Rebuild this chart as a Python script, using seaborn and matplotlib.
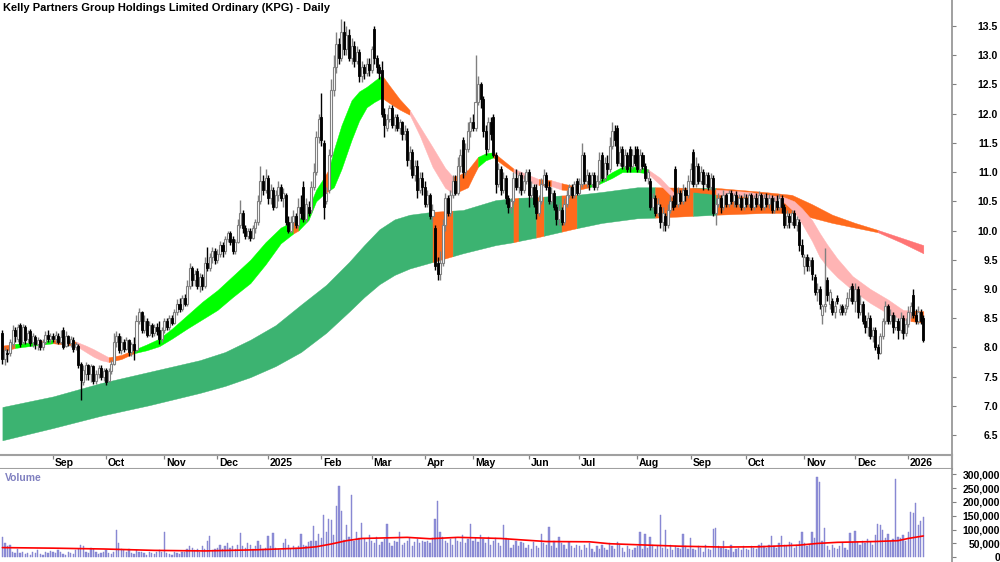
import numpy as np
import pandas as pd
import matplotlib
matplotlib.use("Agg")
import matplotlib.pyplot as plt
import seaborn as sns

sns.set_theme(style="white")
plt.rcParams['font.family'] = ['Liberation Sans', 'DejaVu Sans']

TITLE = "Kelly Partners Group Holdings Limited Ordinary (KPG) - Daily"

# ---- daily candles (open, high, low, close), one list per month ----
aug24 = [(8.25,8.30,7.72,7.80),(7.80,8.00,7.70,7.95),(7.90,7.98,7.75,7.88),(7.90,8.15,7.85,8.10),(8.05,8.38,8.00,8.30),
         (8.30,8.35,8.10,8.20),(8.15,8.40,8.10,8.35),(8.38,8.42,8.00,8.05),(8.10,8.40,8.05,8.35),(8.35,8.38,8.05,8.12),
         (8.15,8.30,8.08,8.25),(8.28,8.32,8.02,8.08),(8.10,8.25,8.00,8.20),(8.18,8.22,7.98,8.05),(8.05,8.18,7.95,8.12),
         (8.12,8.15,7.95,8.00),(8.00,8.14,7.96,8.10),(8.10,8.28,8.05,8.22),(8.22,8.30,8.10,8.15),(8.15,8.25,8.08,8.20)]
sep24 = [(8.20,8.25,8.10,8.15),(8.15,8.28,8.08,8.22),(8.20,8.24,8.05,8.10),(8.10,8.30,8.05,8.18),(8.30,8.34,7.98,8.00),
         (8.02,8.28,8.00,8.20),(8.20,8.22,8.02,8.08),(8.08,8.20,8.00,8.15),(8.12,8.18,7.92,7.98),(8.00,8.10,7.95,8.05),
         (8.02,8.05,7.65,7.70),(7.72,7.75,7.10,7.45),(7.40,7.70,7.35,7.62),(7.55,7.75,7.45,7.70),(7.70,7.72,7.45,7.55),
         (7.55,7.72,7.40,7.68),(7.68,7.70,7.38,7.42),(7.42,7.62,7.38,7.55),(7.55,7.70,7.48,7.65),(7.65,7.70,7.45,7.50),
         (7.50,7.65,7.42,7.60)]
oct24 = [(7.62,7.65,7.35,7.40),(7.42,7.65,7.40,7.60),(7.60,7.78,7.55,7.72),(7.72,8.25,7.70,8.10),(8.10,8.28,8.00,8.20),
         (8.20,8.25,7.90,7.95),(7.95,8.20,7.88,8.10),(8.10,8.15,7.92,7.98),(7.98,8.18,7.95,8.12),(8.12,8.15,7.85,7.92),
         (7.92,8.10,7.85,8.05),(8.05,8.18,7.78,7.95),(7.95,8.55,7.92,8.45),(8.45,8.68,8.40,8.60),(8.60,8.62,8.25,8.30),
         (8.30,8.55,8.25,8.45),(8.45,8.50,8.18,8.22),(8.22,8.45,8.20,8.38),(8.38,8.42,8.18,8.25),(8.25,8.40,8.20,8.35),
         (8.35,8.42,8.22,8.28),(8.30,8.45,8.05,8.15),(8.15,8.35,8.10,8.30)]
nov24 = [(8.30,8.50,8.25,8.45),(8.45,8.50,8.30,8.35),(8.35,8.55,8.30,8.50),(8.50,8.55,8.38,8.42),(8.42,8.65,8.40,8.60),
         (8.60,8.82,8.55,8.75),(8.75,8.85,8.60,8.65),(8.65,8.90,8.62,8.85),(8.85,8.92,8.70,8.75),(8.75,9.15,8.70,9.05),
         (9.05,9.45,9.00,9.35),(9.35,9.40,9.05,9.15),(9.15,9.32,9.05,9.25),(9.30,9.35,9.00,9.05),(9.05,9.28,8.95,9.20),
         (9.20,9.25,8.98,9.05),(9.05,9.55,9.02,9.45),(9.45,9.72,9.30,9.35),(9.35,9.62,9.30,9.55),(9.55,9.72,9.45,9.65),
         (9.65,9.70,9.42,9.50)]
dec24 = [(9.50,9.68,9.45,9.60),(9.60,9.82,9.55,9.75),(9.75,9.80,9.55,9.65),(9.65,9.90,9.60,9.85),(9.85,10.00,9.80,9.95),
         (9.95,10.00,9.75,9.80),(9.85,9.90,9.60,9.65),(9.65,9.85,9.60,9.80),(9.80,10.20,9.78,10.10),(10.10,10.52,10.05,10.30),
         (10.30,10.35,9.95,10.05),(10.05,10.10,9.85,9.90),(9.90,10.05,9.85,10.00),(10.00,10.05,9.82,9.88),(9.88,10.10,9.85,10.05),
         (10.05,10.20,9.95,10.15),(10.15,10.60,10.10,10.50),(10.50,11.10,10.45,10.85),(10.85,10.95,10.60,10.70),(10.70,11.05,10.65,10.90)]
jan25 = [(10.90,10.95,10.45,10.55),(10.55,10.80,10.45,10.70),(10.70,10.75,10.35,10.40),(10.40,10.70,10.38,10.60),(10.60,10.85,10.50,10.75),
         (10.75,10.80,10.50,10.55),(10.55,10.72,10.40,10.65),(10.60,10.65,10.10,10.15),(10.15,10.25,9.95,10.00),(10.00,10.25,9.95,10.15),
         (10.15,10.35,10.05,10.25),(10.25,10.30,10.05,10.10),(10.10,10.55,10.05,10.40),(10.40,10.60,10.20,10.30),(10.75,10.85,10.15,10.20),
         (10.20,10.55,10.15,10.45),(10.40,10.50,10.25,10.30),(10.35,10.85,10.30,10.75),(10.75,11.15,10.70,11.00),(11.00,11.70,10.95,11.60),
         (11.60,12.00,11.50,11.90)]
feb25 = [(11.95,12.35,11.45,11.55),(11.50,11.55,10.20,10.40),(10.50,10.75,10.45,10.65),(10.70,11.40,10.65,11.30),(11.30,12.60,11.25,12.40),
         (12.40,13.00,12.30,12.80),(12.80,13.40,12.70,13.20),(13.20,13.30,12.85,12.95),(12.95,13.62,12.90,13.40),(13.40,13.58,13.00,13.10),
         (13.10,13.50,13.00,13.35),(13.35,13.45,12.90,12.95),(12.95,13.30,12.85,13.15),(13.15,13.25,12.80,12.90),(12.90,13.15,12.85,13.05),
         (13.05,13.10,12.55,12.65),(12.65,12.90,12.55,12.80),(12.80,12.85,12.60,12.70),(12.70,12.95,12.65,12.85),(12.85,12.95,12.65,12.75)]
mar25 = [(12.75,13.15,12.70,13.10),(13.45,13.50,12.85,12.95),(12.95,13.00,12.70,12.80),(12.80,12.85,12.60,12.70),(12.75,12.90,11.95,12.00),
         (12.00,12.10,11.60,11.80),(11.75,12.00,11.70,11.90),(11.90,12.15,11.85,12.10),(12.10,12.15,11.75,11.80),(11.80,12.00,11.70,11.95),
         (11.95,12.00,11.70,11.75),(11.75,11.90,11.65,11.85),(11.85,11.88,11.55,11.65),(11.65,11.80,11.55,11.70),(11.70,11.75,11.10,11.20),
         (11.20,11.45,11.05,11.35),(11.35,11.40,10.90,10.95),(10.95,11.20,10.85,11.10),(11.10,11.20,10.55,10.70),(10.70,11.00,10.65,10.90),
         (10.90,11.00,10.60,10.75)]
apr25 = [(10.75,10.85,10.40,10.45),(10.45,10.70,10.40,10.60),(10.60,10.65,10.20,10.25),(10.25,10.45,10.15,10.35),(10.05,10.10,9.33,9.40),
         (9.45,9.55,9.15,9.25),(9.25,9.65,9.15,9.45),(9.45,10.20,9.40,10.10),(10.10,10.65,10.00,10.55),(10.55,10.60,10.25,10.30),
         (10.30,10.70,10.25,10.60),(10.60,10.95,10.55,10.85),(10.85,10.95,10.60,10.65),(10.65,11.25,10.60,11.10),(11.10,11.40,11.00,11.30),
         (11.55,11.60,10.90,11.00),(11.00,11.50,10.95,11.40),(11.40,11.85,11.35,11.70),(11.70,11.95,11.60,11.85)]
may25 = [(11.85,12.00,11.70,11.75),(11.75,13.00,11.70,12.20),(12.20,12.65,12.15,12.50),(12.50,12.55,12.10,12.25),(12.25,12.30,11.60,11.70),
         (11.70,11.80,11.30,11.40),(11.40,11.95,11.35,11.85),(11.85,11.95,11.55,11.65),(11.95,12.00,11.25,11.30),(11.30,11.35,10.65,10.80),
         (10.80,11.15,10.75,11.05),(11.05,11.10,10.60,10.70),(10.70,11.00,10.65,10.90),(10.90,10.95,10.45,10.55),(10.55,10.60,10.30,10.40),
         (10.40,10.55,10.30,10.50),(10.50,11.00,10.45,10.90),(10.90,11.05,10.70,10.75),(10.75,11.00,10.65,10.95),(10.95,11.00,10.60,10.70),
         (10.70,10.95,10.65,10.85),(10.85,11.05,10.80,11.00)]
jun25 = [(11.00,11.05,10.40,10.60),(10.60,10.85,10.55,10.75),(10.75,10.80,10.40,10.45),(10.70,10.80,10.20,10.30),(10.30,10.60,10.25,10.50),
         (10.50,10.90,10.45,10.80),(10.80,11.05,10.75,10.95),(10.95,11.00,10.70,10.75),(10.75,10.85,10.45,10.50),(10.50,10.75,10.45,10.65),
         (10.65,10.70,10.35,10.40),(10.40,10.45,10.10,10.20),(10.20,10.45,10.10,10.35),(10.35,10.40,10.10,10.15),(10.15,10.55,10.10,10.45),
         (10.45,10.70,10.40,10.60),(10.60,10.80,10.55,10.75),(10.75,10.80,10.55,10.60),(10.60,10.85,10.55,10.80),(10.85,10.90,10.60,10.65)]
jul25 = [(10.65,10.90,10.60,10.80),(10.80,11.50,10.75,11.30),(11.30,11.35,10.80,10.85),(10.85,11.05,10.75,10.95),(10.95,11.00,10.70,10.80),
         (10.80,11.00,10.75,10.95),(10.95,11.00,10.70,10.75),(10.75,10.95,10.70,10.85),(10.85,11.35,10.80,11.20),(11.30,11.35,10.85,10.90),
         (10.90,11.25,10.85,11.15),(11.15,11.30,10.95,11.05),(11.05,11.60,11.00,11.45),(11.45,11.85,11.40,11.70),(11.70,11.80,11.45,11.55),
         (11.75,11.80,11.10,11.15),(11.15,11.45,11.10,11.35),(11.40,11.45,11.05,11.10),(11.10,11.40,11.05,11.30),(11.30,11.35,11.00,11.05),
         (11.40,11.45,11.00,11.10),(11.10,11.40,11.05,11.30),(11.30,11.45,11.10,11.15)]
aug25 = [(11.40,11.45,11.00,11.05),(11.05,11.40,11.00,11.30),(11.30,11.35,11.05,11.10),(11.10,11.15,10.85,10.90),(10.90,11.05,10.80,11.00),
         (10.85,10.90,10.35,10.40),(10.40,10.65,10.35,10.55),(10.55,10.60,10.25,10.30),(10.30,10.55,10.25,10.45),(10.40,10.45,10.05,10.15),
         (10.15,10.40,10.00,10.30),(10.25,10.30,10.00,10.10),(10.10,10.45,10.05,10.35),(10.35,10.60,10.30,10.50),(10.50,10.60,10.35,10.40),
         (11.05,11.10,10.40,10.45),(10.45,10.75,10.40,10.65),(10.65,10.70,10.45,10.50),(10.50,10.80,10.45,10.70),(10.70,10.75,10.50,10.60),
         (10.60,10.95,10.55,10.85)]
sep25 = [(10.85,11.15,10.80,11.05),(11.35,11.40,10.75,10.80),(10.80,11.25,10.75,11.10),(11.10,11.15,10.80,10.85),(10.85,11.10,10.80,11.00),
         (11.00,11.05,10.70,10.80),(10.80,11.00,10.75,10.95),(10.95,11.00,10.70,10.75),(10.75,10.98,10.70,10.90),(10.90,10.95,10.25,10.30),
         (10.30,10.55,10.10,10.45),(10.45,10.65,10.40,10.55),(10.55,10.60,10.30,10.40),(10.40,10.70,10.35,10.60),(10.60,10.65,10.40,10.45),
         (10.45,10.70,10.40,10.65),(10.65,10.70,10.45,10.50),(10.50,10.65,10.40,10.60),(10.60,10.68,10.40,10.45),(10.45,10.62,10.40,10.55),
         (10.55,10.60,10.35,10.40),(10.40,10.65,10.35,10.55)]
oct25 = [(10.55,10.62,10.40,10.45),(10.45,10.65,10.40,10.60),(10.60,10.65,10.35,10.40),(10.40,10.60,10.35,10.55),(10.55,10.65,10.40,10.45),
         (10.45,10.68,10.42,10.60),(10.60,10.65,10.35,10.40),(10.40,10.62,10.35,10.55),(10.55,10.65,10.40,10.45),(10.45,10.62,10.38,10.55),
         (10.55,10.60,10.30,10.35),(10.35,10.58,10.30,10.50),(10.50,10.60,10.35,10.40),(10.40,10.62,10.35,10.55),(10.55,10.60,10.30,10.40),
         (10.40,10.45,10.05,10.10),(10.10,10.35,10.05,10.25),(10.25,10.30,10.05,10.15),(10.15,10.35,10.10,10.30),(10.30,10.35,10.05,10.10),
         (10.10,10.25,10.00,10.20),(10.15,10.20,9.65,9.75),(9.75,9.85,9.55,9.60)]
nov25 = [(9.40,9.60,9.25,9.55),(9.55,9.60,9.30,9.40),(9.40,9.55,9.30,9.50),(9.50,9.55,9.15,9.25),(9.20,9.25,8.90,8.95),
         (8.95,9.10,8.80,9.00),(9.00,9.05,8.65,8.75),(8.55,8.75,8.40,8.70),(8.70,9.70,8.60,8.75),(9.15,9.20,8.80,8.90),
         (8.75,9.00,8.65,8.95),(8.80,8.85,8.55,8.60),(8.60,8.80,8.50,8.70),(8.85,8.90,8.75,8.80),(8.60,8.75,8.55,8.65),
         (8.70,8.75,8.55,8.60),(8.60,8.75,8.55,8.68),(8.70,8.95,8.65,8.85),(8.85,9.05,8.80,9.00),(9.05,9.10,8.75,8.80)]
dec25 = [(8.80,9.10,8.60,9.00),(9.00,9.05,8.50,8.60),(8.60,8.90,8.55,8.75),(8.75,8.80,8.40,8.45),(8.45,8.55,8.25,8.35),
         (8.35,8.60,8.20,8.50),(8.50,8.55,8.15,8.20),(8.20,8.35,8.10,8.30),(8.30,8.35,7.95,8.00),(8.00,8.05,7.80,7.90),
         (7.90,8.25,7.88,8.20),(8.20,8.50,8.15,8.45),(8.45,8.80,8.40,8.70),(8.70,8.75,8.40,8.45),(8.45,8.65,8.40,8.55),
         (8.55,8.60,8.25,8.35),(8.35,8.55,8.30,8.45),(8.45,8.50,8.15,8.30),(8.30,8.60,8.25,8.50),(8.50,8.55,8.15,8.25),
         (8.25,8.50,8.20,8.40)]
jan26 = [(8.40,8.70,8.35,8.60),(8.60,8.78,8.50,8.70),(8.90,9.00,8.50,8.55),(8.55,8.65,8.40,8.45),(8.45,8.70,8.40,8.60),
         (8.60,8.65,8.40,8.45),(8.50,8.55,8.10,8.12)]

# ---- daily volume (thousands of shares), one list per month ----
vol_aug24 = [75,50,40,45,20,15,30,15,20,12,15,10,18,14,25,12,10,20,15,22]
vol_sep24 = [20,15,25,18,12,10,20,15,12,25,30,45,40,20,15,35,30,18,12,15,20]
vol_oct24 = [25,15,12,20,99,50,30,25,20,30,15,12,25,18,20,15,10,20,15,12,18,25,20]
vol_nov24 = [90,15,12,10,20,15,12,18,20,30,40,35,25,30,20,40,30,60,77,25,30]
vol_dec24 = [35,45,30,40,50,35,42,30,45,87,40,35,50,45,30,40,60,45,30,35]
vol_jan25 = [77,40,89,35,30,25,50,67,45,30,40,35,40,84,45,40,55,60,113,60,83]
vol_feb25 = [70,153,90,140,135,80,185,257,167,62,117,75,225,60,92,70,123,65,55,80]
vol_mar25 = [60,50,75,45,55,65,120,50,40,60,55,90,45,50,60,70,40,55,65,50,60]
vol_apr25 = [55,60,50,70,140,205,90,75,60,50,65,45,70,60,55,80,50,65,120]
vol_may25 = [60,70,55,80,65,50,75,45,60,70,50,40,115,70,65,35,45,60,40,55,50,35]
vol_jun25 = [45,30,55,40,35,83,50,45,108,40,60,35,75,50,45,30,55,40,35,45]
vol_jul25 = [40,25,45,35,50,30,20,40,30,45,35,25,50,40,30,55,45,35,20,40,30,25,35]
vol_aug25 = [40,90,30,83,35,75,45,30,40,153,35,99,30,45,25,40,35,30,83,40,30]
vol_sep25 = [70,30,25,40,35,20,45,30,25,102,105,40,35,60,30,25,45,20,30,35,25,40]
vol_oct25 = [30,25,40,35,30,45,50,40,35,45,78,40,35,50,77,45,40,55,50,35,45,60,93]
vol_nov25 = [50,40,45,93,70,289,271,60,105,40,25,45,35,30,40,50,35,25,87,55]
vol_dec25 = [95,55,45,60,50,65,55,45,80,119,117,99,70,85,60,65,283,75,70,80,60]
vol_jan26 = [93,165,159,197,117,131,147]

# ---- volume moving average (bar index, thousands) ----
vol_ma_pts = [(0,35),(20,33),(40,30),(60,25),(80,23),(100,27),(118,33),(124,38),(130,48),(136,60),
              (142,68),(160,72),(169,67),(180,72),(197,68),(205,63),(215,57),(232,56),(240,49),(252,45),
              (268,40),(285,37),(299,38),(315,44),(322,50),(330,54),(345,57),(354,60),(358,68),(364,77)]

# ---- moving-average ribbons: (bar index, upper, lower, colour of following segment) ----
short_band = [(0,8.03,7.93,'O'),(5,8.06,7.99,'G'),(14,8.10,8.04,'O'),(16,8.11,8.05,'G'),(20,8.13,8.07,'O'),
              (29,8.10,8.03,'P'),(33,8.03,7.92,'P'),(36,7.97,7.84,'P'),(39,7.90,7.78,'P'),(42,7.83,7.75,'O'),
              (47,7.87,7.80,'O'),(52,7.96,7.90,'G'),(57,8.05,7.95,'G'),(62,8.15,8.02,'G'),(67,8.32,8.15,'G'),
              (73,8.55,8.32,'G'),(79,8.78,8.48,'G'),(85,8.98,8.64,'G'),(91,9.22,8.86,'G'),(98,9.50,9.10,'G'),
              (104,9.80,9.42,'G'),(110,10.05,9.78,'G'),(115,10.16,9.95,'O'),(117,10.18,10.00,'G'),(121,10.38,10.18,'G'),
              (124,10.70,10.50,'G'),(127,10.90,10.62,'O'),(129,11.05,10.68,'G'),(131,11.38,10.74,'G'),(134,11.80,11.05,'G'),
              (138,12.23,11.55,'G'),(141,12.38,11.88,'G'),(144,12.46,12.11,'G'),(147,12.56,12.20,'G'),(150,12.66,12.27,'O'),
              (153,12.48,12.18,'O'),(157,12.25,12.07,'O'),(161,12.06,11.98,'P'),(165,11.78,11.62,'P'),(170,11.43,11.09,'P'),
              (175,11.07,10.73,'P'),(178,10.92,10.64,'O'),(181,10.96,10.68,'O'),(184,11.04,10.74,'O'),(186,11.15,10.92,'O'),
              (188,11.26,11.09,'G'),(191,11.32,11.20,'G'),(194,11.34,11.25,'O'),(198,11.20,11.12,'O'),(202,11.06,11.00,'P'),
              (208,10.95,10.83,'P'),(212,10.88,10.78,'O'),(217,10.86,10.76,'P'),(221,10.81,10.70,'O'),(226,10.76,10.68,'O'),
              (232,10.81,10.74,'G'),(236,10.86,10.80,'G'),(241,11.00,10.90,'G'),(245,11.09,11.00,'G'),(251,11.09,11.00,'G'),
              (255,11.05,10.98,'P'),(260,10.90,10.78,'P'),(266,10.62,10.52,'O'),(273,10.73,10.66,'O'),(282,10.70,10.62,'P'),
              (295,10.66,10.58,'P'),(309,10.57,10.48,'P'),(313,10.50,10.32,'P'),(316,10.38,10.12,'P'),(320,10.18,9.82,'P'),
              (323,9.96,9.55,'P'),(326,9.76,9.38,'P'),(330,9.52,9.20,'P'),(336,9.22,8.98,'P'),(343,9.00,8.76,'P'),
              (350,8.82,8.58,'P'),(356,8.64,8.47,'P'),(359,8.63,8.45,'O'),(364,8.62,8.42,'O')]
long_band = [(0,6.98,6.41,'S'),(20,7.16,6.62,'S'),(39,7.39,6.83,'S'),(58,7.58,7.01,'S'),(78,7.78,7.22,'S'),
             (88,7.92,7.34,'S'),(98,8.13,7.49,'S'),(108,8.38,7.68,'S'),(118,8.73,7.92,'S'),(128,9.07,8.25,'S'),
             (137,9.46,8.61,'S'),(143,9.75,8.86,'S'),(149,10.02,9.08,'S'),(155,10.19,9.24,'S'),(161,10.27,9.35,'S'),
             (170,10.32,9.46,'O'),(178,10.34,9.56,'S'),(182,10.35,9.61,'S'),(195,10.52,9.75,'S'),(202,10.55,9.80,'O'),
             (204,10.56,9.82,'S'),(211,10.57,9.88,'O'),(214,10.58,9.91,'S'),(221,10.60,9.98,'O'),(227,10.61,10.04,'S'),
             (237,10.66,10.13,'S'),(251,10.74,10.21,'S'),(258,10.74,10.22,'O'),(273,10.73,10.25,'S'),(282,10.73,10.27,'O'),
             (301,10.66,10.30,'O'),(312,10.61,10.30,'O'),(320,10.45,10.22,'O'),(328,10.27,10.13,'O'),(337,10.13,10.05,'O'),
             (346,10.01,9.97,'R'),(355,9.88,9.80,'R'),(364,9.75,9.61,'R')]

month_labels = ["Sep","Oct","Nov","Dec","2025","Feb","Mar","Apr","May","Jun","Jul","Aug","Sep","Oct","Nov","Dec","2026"]
month_start_idx = [20,41,64,85,105,126,146,167,186,208,228,251,272,294,317,337,358]
price_ticks = [6.5,7.0,7.5,8.0,8.5,9.0,9.5,10.0,10.5,11.0,11.5,12.0,12.5,13.0,13.5]
vol_ticks = [0,50000,100000,150000,200000,250000,300000]

palette = {'G': '#00FF00', 'P': '#FFB4B4', 'O': '#FF6A1C', 'S': '#3CB371', 'R': '#FF7474'}

# ---- assemble ----
ohlc = aug24+sep24+oct24+nov24+dec24+jan25+feb25+mar25+apr25+may25+jun25+jul25+aug25+sep25+oct25+nov25+dec25+jan26
vols = (vol_aug24+vol_sep24+vol_oct24+vol_nov24+vol_dec24+vol_jan25+vol_feb25+vol_mar25+vol_apr25+vol_may25
        +vol_jun25+vol_jul25+vol_aug25+vol_sep25+vol_oct25+vol_nov25+vol_dec25+vol_jan26)
df = pd.DataFrame(ohlc, columns=['open','high','low','close'])
df['i'] = np.arange(len(df))
df['volume'] = np.array(vols[:len(df)]) * 1000
ma = pd.DataFrame(vol_ma_pts, columns=['i','v'])
ma['v'] = ma['v'] * 1000

W, H = 1000, 562
fig = plt.figure(figsize=(W/100, H/100), dpi=100)
fig.patch.set_facecolor('white')
XR = 952 / W
x_lim = (-2.4/2.53, (952-2.4)/2.53)

ax = fig.add_axes([0, 1-455/H, XR, 455/H])
axd = fig.add_axes([0, 1-469/H, XR, 14/H])
axv = fig.add_axes([0, 0, XR, 1-469/H])

def draw_band(a, band):
    # group consecutive segments of the same colour into one polygon
    n = len(band)
    k = 0
    while k < n - 1:
        col = band[k][3]
        j = k
        while j < n - 1 and band[j][3] == col:
            j += 1
        pts = band[k:j+1]
        xs = [p[0] for p in pts]
        a.fill_between(xs, [p[2] for p in pts], [p[1] for p in pts],
                       color=palette[col], linewidth=0.3, zorder=1)
        k = j

draw_band(ax, long_band)
draw_band(ax, short_band)

up = df['close'] >= df['open']
dn = ~up
ax.vlines(df['i'][up], df['low'][up], df['high'][up], color='#808080', lw=1.0, zorder=3)
ax.vlines(df['i'][dn], df['low'][dn], df['high'][dn], color='black', lw=1.0, zorder=3)
blo = np.minimum(df['open'], df['close'])
bh = np.maximum((df['close'] - df['open']).abs(), 0.015)
ax.bar(df['i'][up], bh[up], bottom=blo[up], width=0.8, color='white', edgecolor='#808080', linewidth=0.8, zorder=4)
ax.bar(df['i'][dn], bh[dn], bottom=blo[dn], width=0.8, color='black', edgecolor='black', linewidth=0.6, zorder=4)

ax.set_xlim(*x_lim)
ax.set_ylim(13.5 - (455-26)/58.43, 13.5 + 26/58.43)
ax.set_xticks([])
ax.yaxis.tick_right()
ax.set_yticks(price_ticks)
ax.set_yticklabels([f"{t:.1f}" for t in price_ticks])
ax.tick_params(axis='y', direction='out', length=3, width=0.8, color='#808080', pad=30.2,
               labelsize=7.5, labelcolor='black')
for lb in ax.get_yticklabels():
    lb.set_ha('right'); lb.set_fontweight('bold')
for s in ['top', 'left', 'bottom']:
    ax.spines[s].set_visible(False)
ax.spines['right'].set_color('#909090'); ax.spines['right'].set_linewidth(1.2)
ax.grid(False)
ax.set_facecolor('white')

# date strip
axd.set_xlim(*x_lim); axd.set_ylim(0, 1)
axd.set_xticks([]); axd.set_yticks([])
axd.spines['left'].set_visible(False)
for s in ['top', 'bottom', 'right']:
    axd.spines[s].set_color('#A0A0A0'); axd.spines[s].set_linewidth(1.5)
axd.vlines(month_start_idx, 0.72, 1.0, color='#808080', lw=0.9)
for i, lab in zip(month_start_idx, month_labels):
    axd.text(i + 0.7, 0.42, lab, ha='left', va='center', fontsize=7.5, fontweight='bold', color='black')

# volume panel
axv.bar(df['i'], df['volume'], width=0.5, color='#8E8ED8', edgecolor='#8080CC', linewidth=0.3, zorder=2)
sns.lineplot(data=ma, x='i', y='v', ax=axv, color='#FF0000', lw=1.2, zorder=3)
axv.set_xlim(*x_lim)
axv.set_ylim(-(562-557.3)/0.277*1000, (557.3-469)/0.277*1000)
axv.set_xlabel(''); axv.set_ylabel('')
axv.set_xticks([])
axv.yaxis.tick_right()
axv.set_yticks(vol_ticks)
axv.set_yticklabels([f"{v:,}" for v in vol_ticks])
axv.tick_params(axis='y', direction='out', length=3, width=0.8, color='#808080', pad=31.7,
                labelsize=7.5, labelcolor='black')
for lb in axv.get_yticklabels():
    lb.set_ha('right'); lb.set_fontweight('bold')
for s in ['top', 'left', 'bottom']:
    axv.spines[s].set_visible(False)
axv.spines['right'].set_color('#909090'); axv.spines['right'].set_linewidth(1.2)
axv.grid(False)

fig.text(3/W, 1-8/H, TITLE, ha='left', va='center', fontsize=8, fontweight='bold', color='black')
fig.text(5/W, 1-478/H, "Volume", ha='left', va='center', fontsize=7.5, fontweight='bold', color='#8080C0')

fig.savefig("out.png", dpi=100, facecolor='white')
